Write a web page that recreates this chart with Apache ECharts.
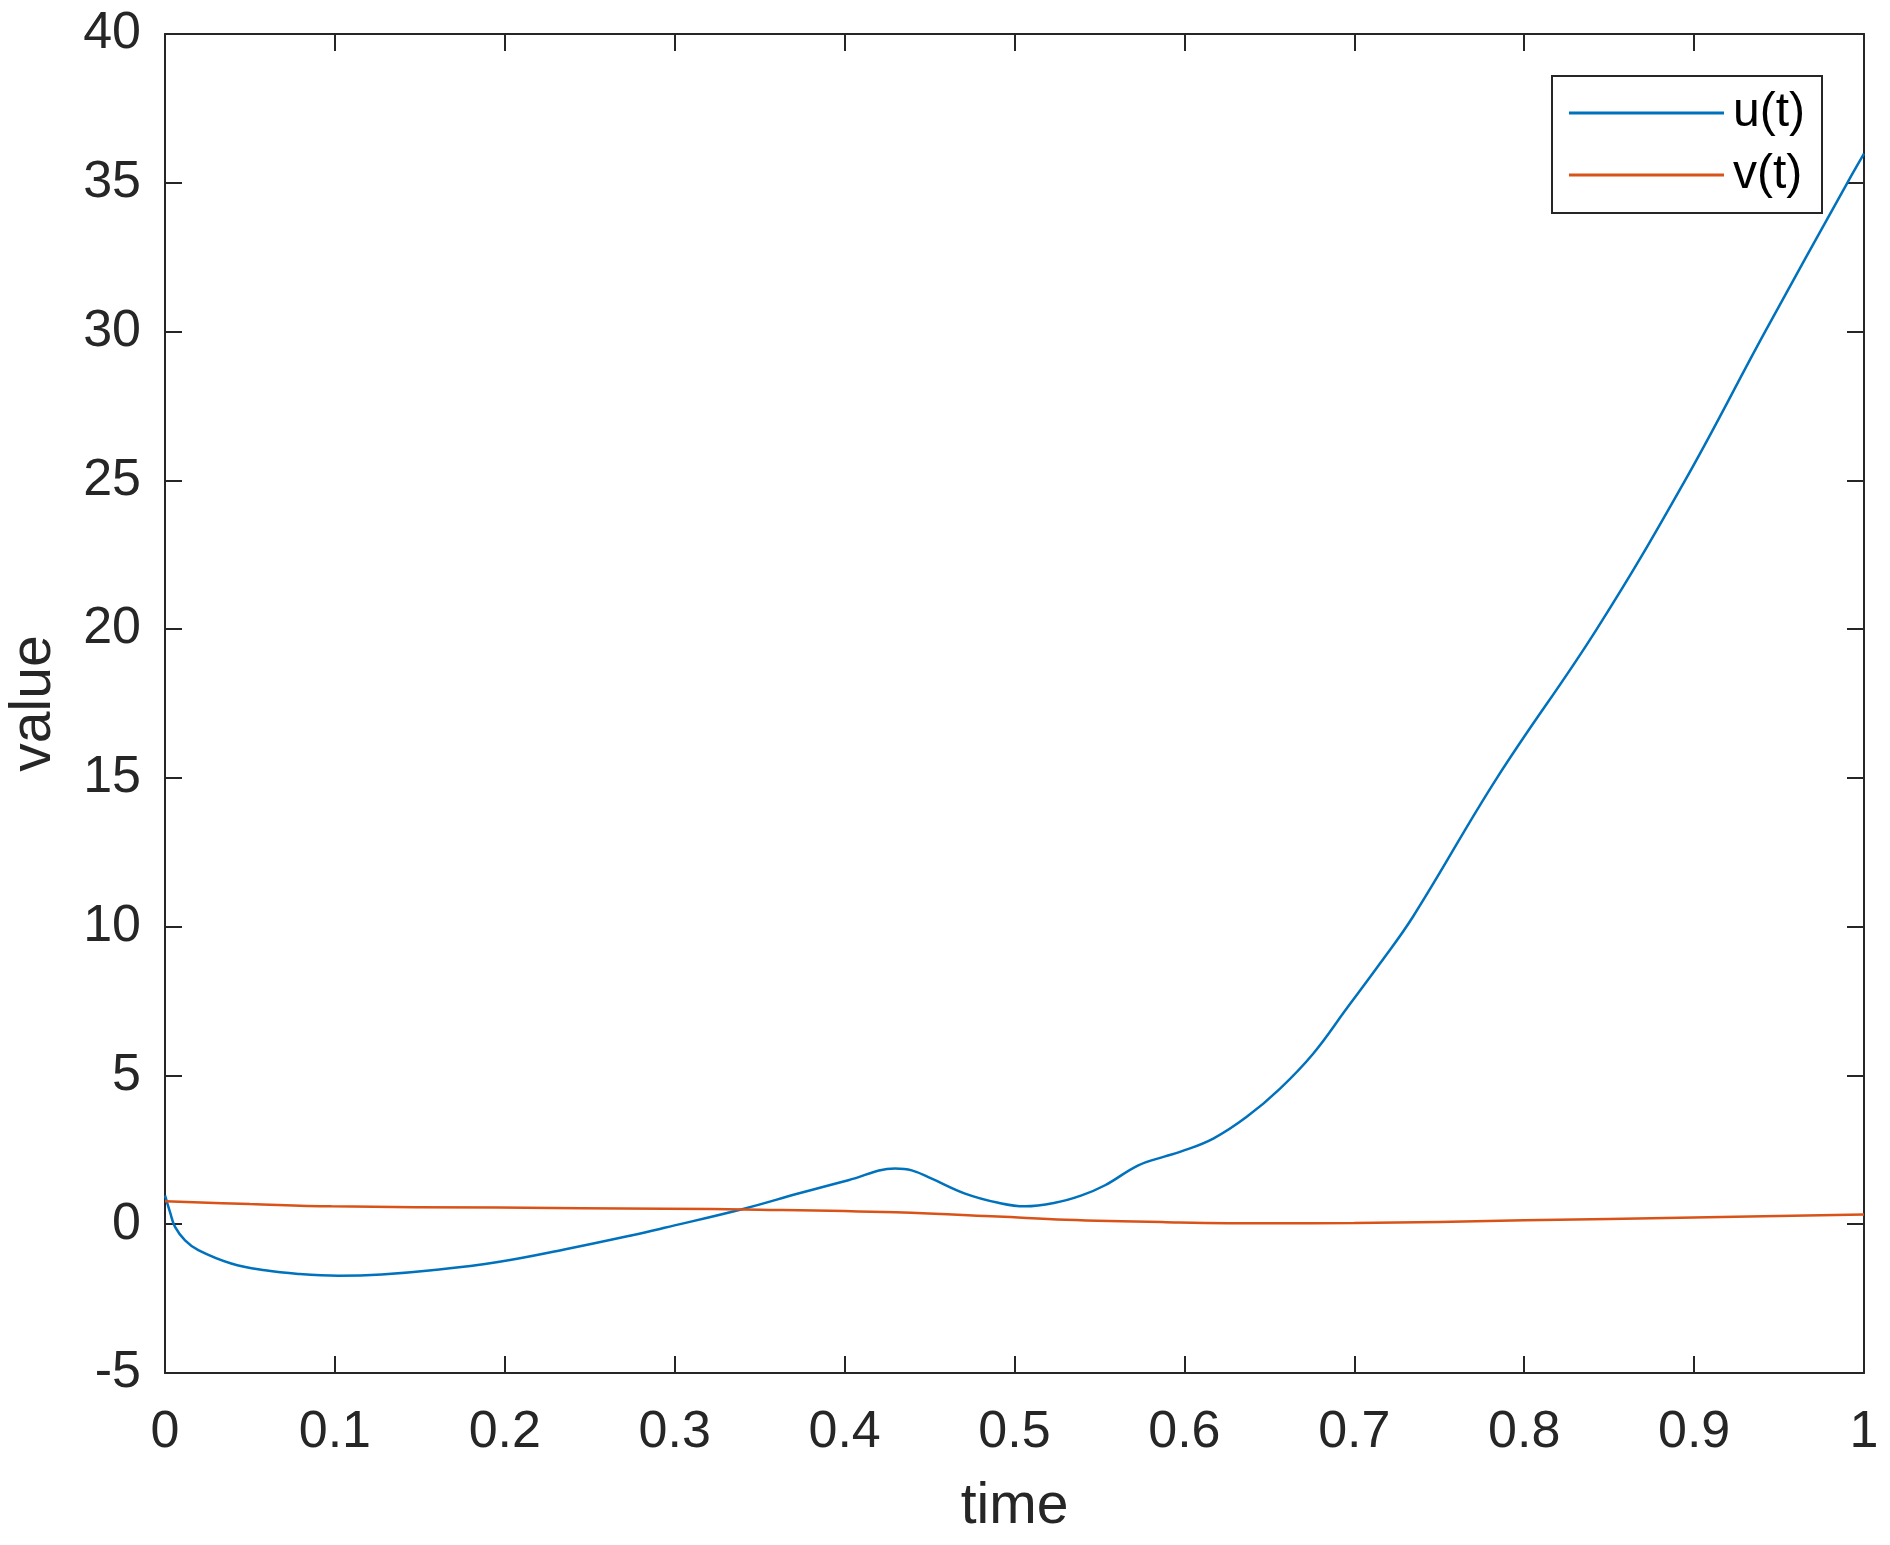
<!DOCTYPE html>
<html>
<head>
<meta charset="utf-8">
<script src="https://cdn.jsdelivr.net/npm/echarts@6/dist/echarts.min.js"></script>
<style>
  html, body { margin: 0; padding: 0; background: #fff; }
  #chart { width: 1890px; height: 1545px; }
</style>
</head>
<body>
<div id="chart"></div>
<script>
// values
var uTime = [0, 0.003, 0.0059, 0.0118, 0.0196, 0.039, 0.0589, 0.0785, 0.102, 0.1275, 0.157, 0.196, 0.235, 0.275, 0.294,
    0.3414, 0.3727, 0.4022, 0.4297, 0.4395, 0.4513, 0.4709, 0.4905, 0.5062, 0.5238, 0.5395, 0.5533, 0.5729, 0.5886,
    0.5974, 0.617, 0.6367, 0.6563, 0.6759, 0.6955, 0.7151, 0.7347, 0.784, 0.8427, 0.8947, 0.9418, 0.9902, 1.0];
var uValue = [0.97, 0.4, -0.09, -0.54, -0.87, -1.32, -1.55, -1.67, -1.73, -1.69, -1.55, -1.27, -0.85, -0.37, -0.12,
    0.53, 1.03, 1.48, 1.87, 1.81, 1.53, 1.03, 0.72, 0.60, 0.72, 0.97, 1.31, 1.98, 2.28,
    2.43, 2.88, 3.61, 4.56, 5.74, 7.25, 8.76, 10.35, 15, 20, 25, 30, 35, 35.98];

var vTime = [0, 0.05, 0.098, 0.196, 0.294, 0.35, 0.43, 0.49, 0.53, 0.589, 0.65, 0.7, 0.8, 0.9, 1.0];
var vValue = [0.77, 0.68, 0.60, 0.56, 0.52, 0.49, 0.40, 0.26, 0.15, 0.07, 0.03, 0.04, 0.13, 0.23, 0.33];

var xTicks = { min: 0, max: 1, interval: 0.1 };
var yTicks = { min: -5, max: 40, interval: 5 };

function pairs(xs, ys) {
    return xs.map(function (x, i) { return [x, ys[i]]; });
}

var axisColor = '#262626';
var font = 'Liberation Sans, Arial, Helvetica, sans-serif';

function xAxisCfg(pos, showLabels) {
    return {
        type: 'value',
        position: pos,
        min: xTicks.min, max: xTicks.max, interval: xTicks.interval,
        name: showLabels ? 'time' : '',
        nameLocation: 'middle',
        nameGap: 106,
        nameTextStyle: { color: axisColor, fontSize: 57, fontFamily: font },
        axisLine: { show: true, onZero: false, lineStyle: { color: axisColor, width: 2 } },
        axisTick: { show: true, inside: true, length: 17, lineStyle: { color: axisColor, width: 2 } },
        axisLabel: { show: showLabels, color: axisColor, fontSize: 52, fontFamily: font, margin: 34, showMinLabel: true, showMaxLabel: true },
        splitLine: { show: false }
    };
}

function yAxisCfg(pos, showLabels) {
    return {
        type: 'value',
        position: pos,
        min: yTicks.min, max: yTicks.max, interval: yTicks.interval,
        name: showLabels ? 'value' : '',
        nameLocation: 'middle',
        nameGap: 102,
        nameTextStyle: { color: axisColor, fontSize: 57, fontFamily: font },
        axisLine: { show: true, onZero: false, lineStyle: { color: axisColor, width: 2 } },
        axisTick: { show: true, inside: true, length: 17, lineStyle: { color: axisColor, width: 2 } },
        axisLabel: { show: showLabels, color: axisColor, fontSize: 52, fontFamily: font, margin: 24, showMinLabel: true, showMaxLabel: true },
        splitLine: { show: false }
    };
}

var option = {
    backgroundColor: '#ffffff',
    animation: false,
    grid: { left: 165, right: 26, top: 34, bottom: 172, containLabel: false, outerBoundsMode: 'none' },
    legend: {
        orient: 'vertical',
        left: 1552,
        top: 76,
        padding: [13, 17, 14, 17],
        itemGap: 14,
        itemWidth: 155,
        itemHeight: 3,
        icon: 'rect',
        borderColor: axisColor,
        borderWidth: 2,
        backgroundColor: '#fff',
        textStyle: { color: '#000', fontSize: 48, fontFamily: font, padding: [0, 0, 0, 4] },
        data: ['u(t)', 'v(t)']
    },
    xAxis: [xAxisCfg('bottom', true), xAxisCfg('top', false)],
    yAxis: [yAxisCfg('left', true), yAxisCfg('right', false)],
    series: [
        {
            name: 'u(t)',
            type: 'line',
            data: pairs(uTime, uValue),
            showSymbol: false,
            smooth: 0.4,
            lineStyle: { color: '#0072BD', width: 2.5 },
            itemStyle: { color: '#0072BD' }
        },
        {
            name: 'v(t)',
            type: 'line',
            data: pairs(vTime, vValue),
            showSymbol: false,
            smooth: 0.4,
            lineStyle: { color: '#D95319', width: 2.5 },
            itemStyle: { color: '#D95319' }
        }
    ]
};

var myChart = echarts.init(document.getElementById('chart'));
myChart.setOption(option);
</script>
</body>
</html>
